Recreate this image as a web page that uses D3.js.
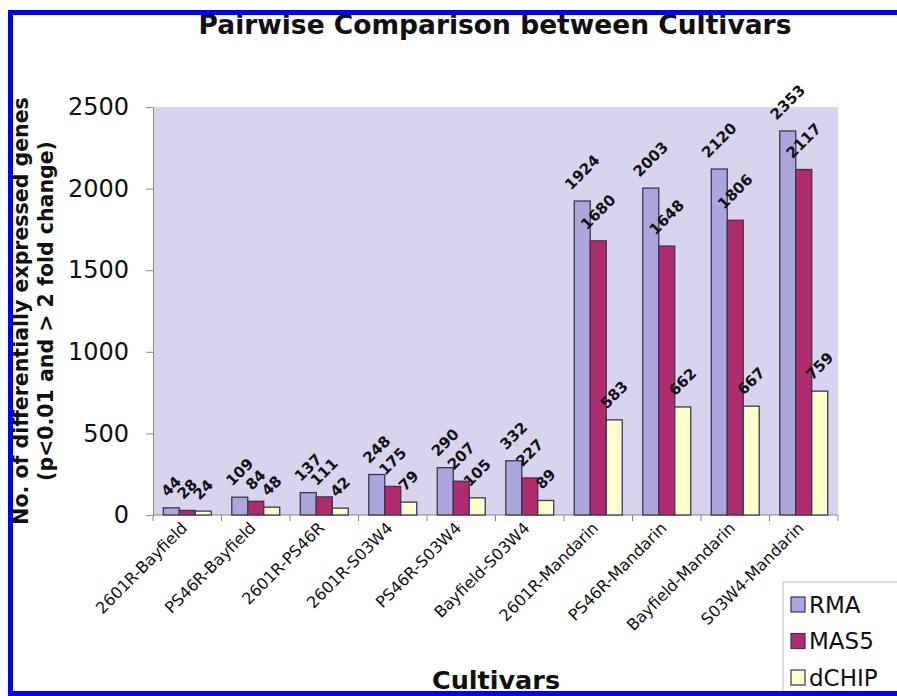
<!DOCTYPE html>
<html>
<head>
<meta charset="utf-8">
<script src="https://cdn.jsdelivr.net/npm/d3@7"></script>
<style>
  body { margin: 0; background: #fff; }
  svg { display: block; font-family: "DejaVu Sans", Verdana, sans-serif; }
</style>
</head>
<body>
<script>
  // data
  const cultivars = ["2601R-Bayfield", "PS46R-Bayfield", "2601R-PS46R", "2601R-S03W4", "PS46R-S03W4",
                     "Bayfield-S03W4", "2601R-Mandarin", "PS46R-Mandarin", "Bayfield-Mandarin", "S03W4-Mandarin"];
  const methods = ["RMA", "MAS5", "dCHIP"];
  const rma   = [44, 109, 137, 248, 290, 332, 1924, 2003, 2120, 2353];
  const mas5  = [28, 84, 111, 175, 207, 227, 1680, 1648, 1806, 2117];
  const dchip = [24, 48, 42, 79, 105, 89, 583, 662, 667, 759];
  const yTicks = [0, 500, 1000, 1500, 2000, 2500];

  const series = [rma, mas5, dchip];
  const colors = { RMA: "#aba6dd", MAS5: "#b02a6e", dCHIP: "#ffffcc" };
  const font = '"DejaVu Sans", Verdana, sans-serif';

  const width = 897, height = 696;
  const margin = { top: 107, right: 59, bottom: 181, left: 153 };

  const svg = d3.select("body").append("svg")
      .attr("width", width)
      .attr("height", height);

  const x0 = d3.scaleBand()
      .domain(cultivars)
      .range([margin.left, width - margin.right])
      .paddingInner(0.3)
      .paddingOuter(0.15);

  const x1 = d3.scaleBand()
      .domain(methods)
      .range([0, x0.bandwidth()]);

  const y = d3.scaleLinear()
      .domain([0, 2500])
      .range([height - margin.bottom, margin.top]);

  // plot background
  svg.append("rect")
      .attr("x", margin.left)
      .attr("y", margin.top)
      .attr("width", width - margin.left - margin.right)
      .attr("height", height - margin.top - margin.bottom)
      .attr("fill", "#d8d4ee");

  // y axis
  const yAxis = svg.append("g")
      .attr("transform", `translate(${margin.left},0)`)
      .call(d3.axisLeft(y).tickValues(yTicks).tickSize(7).tickPadding(17).tickFormat(d3.format("d")));
  yAxis.attr("font-family", font);
  yAxis.selectAll("text").style("font-size", "24px").attr("fill", "#111");
  yAxis.selectAll("line, path").attr("stroke", "#888");

  // x axis, ticks between categories
  const step = x0.step();
  const bounds = d3.range(cultivars.length + 1).map((i) => margin.left + i * step);
  const xg = svg.append("g");
  xg.append("line")
      .attr("x1", margin.left).attr("x2", width - margin.right)
      .attr("y1", y(0)).attr("y2", y(0))
      .attr("stroke", "#888");
  xg.selectAll(".tk")
      .data(bounds).enter()
    .append("line")
      .attr("x1", (d) => d).attr("x2", (d) => d)
      .attr("y1", y(0)).attr("y2", y(0) + 6)
      .attr("stroke", "#888");
  xg.selectAll(".lbl")
      .data(cultivars).enter()
    .append("text")
      .attr("transform", (d) => `translate(${x0(d) + x0.bandwidth() / 2 + 1},${y(0) + 14}) rotate(-45)`)
      .attr("text-anchor", "end")
      .style("font-size", "16px")
      .attr("fill", "#111")
      .text((d) => d);

  // bars
  const groups = svg.append("g").selectAll("g")
      .data(cultivars).enter()
    .append("g")
      .attr("transform", (d) => `translate(${x0(d)},0)`);

  const cells = groups.selectAll("g")
      .data((d, i) => methods.map((m, k) => ({ method: m, value: series[k][i] }))).enter()
    .append("g");

  cells.append("rect")
      .attr("x", (d) => x1(d.method))
      .attr("y", (d) => y(d.value))
      .attr("width", x1.bandwidth())
      .attr("height", (d) => y(0) - y(d.value))
      .attr("fill", (d) => colors[d.method])
      .attr("stroke", "#3d3550")
      .attr("stroke-width", 1.3);

  // value labels, rotated and centred above the bar
  cells.append("text")
      .text((d) => d.value)
      .style("font-size", "15px")
      .style("font-weight", "bold")
      .attr("fill", "#111")
      .attr("text-anchor", "middle")
      .attr("dominant-baseline", "central")
      .attr("transform", function (d) {
        const w = this.getComputedTextLength();
        const h = 11;
        const cx = x1(d.method) + x1.bandwidth() / 2;
        const cy = y(d.value) - 10 - (w + h) * 0.3536;
        return `translate(${cx},${cy}) rotate(-45)`;
      });

  // title
  svg.append("text")
      .attr("x", 495).attr("y", 34)
      .attr("text-anchor", "middle")
      .style("font-size", "26.5px")
      .style("font-weight", "bold")
      .attr("fill", "#111")
      .text("Pairwise Comparison between Cultivars");

  // y title
  const yt = svg.append("text")
      .attr("transform", `translate(0,${(margin.top + y(0)) / 2}) rotate(-90)`)
      .attr("text-anchor", "middle")
      .style("font-size", "20.5px")
      .style("font-weight", "bold")
      .attr("fill", "#111");
  yt.append("tspan").attr("x", 0).attr("y", 28).text("No. of differentially expressed genes");
  yt.append("tspan").attr("x", 0).attr("y", 53).text("(p<0.01 and > 2 fold change)");

  // x title
  svg.append("text")
      .attr("x", 496).attr("y", 689)
      .attr("text-anchor", "middle")
      .style("font-size", "25.5px")
      .style("font-weight", "bold")
      .attr("fill", "#111")
      .text("Cultivars");

  // legend
  const legend = svg.append("g").attr("transform", "translate(783,582)");
  legend.append("rect")
      .attr("width", 130).attr("height", 130)
      .attr("fill", "#fff")
      .attr("stroke", "#bbb");
  const li = legend.selectAll(".item")
      .data(methods).enter()
    .append("g")
      .attr("transform", (d, i) => `translate(8,${15 + i * 36.5})`);
  li.append("rect")
      .attr("width", 14).attr("height", 15)
      .attr("fill", (d) => colors[d])
      .attr("stroke", "#3d3550")
      .attr("stroke-width", 1.2);
  li.append("text")
      .attr("x", 18).attr("y", 15.5)
      .style("font-size", "23px")
      .attr("fill", "#111")
      .text((d) => d);

  // blue frame
  svg.append("rect")
      .attr("x", 10.5).attr("y", 12.5)
      .attr("width", 1000).attr("height", 681)
      .attr("fill", "none")
      .attr("stroke", "#0000ff")
      .attr("stroke-width", 5);
</script>
</body>
</html>
